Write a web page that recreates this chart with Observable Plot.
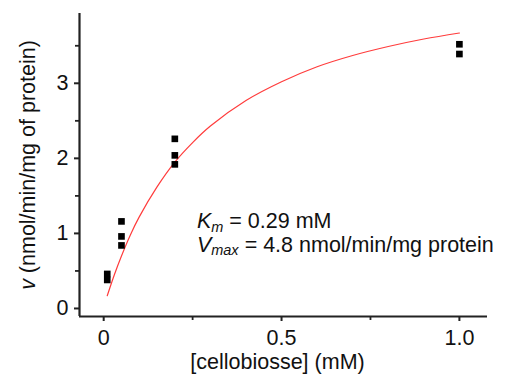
<!DOCTYPE html>
<html><head><meta charset="utf-8">
<script src="https://cdn.jsdelivr.net/npm/d3@7"></script>
<script src="https://cdn.jsdelivr.net/npm/@observablehq/plot@0.6"></script>
<style>
body{margin:0;background:#fff}
#chart svg{font-family:"Liberation Sans",Arial,sans-serif}
</style>
</head><body><div id="chart"></div>
<script>
// measured points
const substrate = [0.01, 0.01, 0.05, 0.05, 0.05, 0.2, 0.2, 0.2, 1.0, 1.0];
const velocity  = [0.38, 0.46, 1.16, 0.96, 0.84, 2.26, 2.04, 1.92, 3.52, 3.39];
// fitted curve
const fitSubstrate = [0.01, 0.03, 0.05, 0.075, 0.1, 0.15, 0.2, 0.25, 0.3, 0.4, 0.5, 0.6, 0.7, 0.8, 0.9, 1.0];
const fitVelocity  = [0.17, 0.45, 0.70, 0.98, 1.22, 1.62, 1.95, 2.21, 2.43, 2.77, 3.02, 3.22, 3.37, 3.49, 3.59, 3.67];
// axes
const xDomain = [-0.068, 1.079];
const yDomain = [-0.107, 3.93];
const xTicks = [0, 0.5, 1.0];
const xTickLabels = ["0", "0.5", "1.0"];
const xMinorTicks = [0.25, 0.75];
const yTicks = [0, 1, 2, 3];
const yTickLabels = ["0", "1", "2", "3"];
const yMinorTicks = [0.5, 1.5, 2.5, 3.5];
const xTitle = "[cellobiosse] (mM)";
const yTitle = "v (nmol/min/mg of protein)";
const kmText = "= 0.29 mM";
const vmaxText = "= 4.8 nmol/min/mg protein";
const annotX = 0.2634, annotY1 = 1.065, annotY2 = 0.752;

const points = substrate.map((s, i) => ({s, v: velocity[i]}));
const fit = fitSubstrate.map((s, i) => ({s, v: fitVelocity[i]}));
const axisColor = "#222";
const FS = 21.5;

const plot = Plot.plot({
  width: 508, height: 380,
  marginLeft: 79, marginRight: 21, marginTop: 13, marginBottom: 64,
  style: {fontFamily: "Liberation Sans, Arial, sans-serif", fontSize: FS + "px", background: "#fff"},
  x: {domain: xDomain},
  y: {domain: yDomain},
  marks: [
    Plot.line(fit, {x: "s", y: "v", curve: "catmull-rom", stroke: "#ff3c3c", strokeWidth: 1.2}),
    Plot.dot(points, {x: "s", y: "v", symbol: "square", r: 3.75, fill: "#000", stroke: "none"}),
    Plot.ruleX([xDomain[0]], {stroke: axisColor, strokeWidth: 2.2}),
    Plot.ruleY([yDomain[0]], {stroke: axisColor, strokeWidth: 2.2}),
    Plot.axisX(xTicks, {tickSize: 5, tickPadding: 8, stroke: axisColor, strokeWidth: 2, fill: "#111", fontSize: FS,
      tickFormat: d => xTickLabels[xTicks.indexOf(d)], label: null}),
    Plot.axisX(xMinorTicks, {tickSize: 4, tickFormat: null, stroke: axisColor, strokeWidth: 1.8, label: null, text: null}),
    Plot.axisY(yTicks, {tickSize: 5, tickPadding: 6, stroke: axisColor, strokeWidth: 2, fill: "#111", fontSize: FS,
      tickFormat: d => yTickLabels[yTicks.indexOf(d)], label: null}),
    Plot.axisY(yMinorTicks, {tickSize: 4, tickFormat: null, stroke: axisColor, strokeWidth: 1.8, label: null, text: null}),
    Plot.text([xTitle], {frameAnchor: "bottom", text: d => d, dy: 52, dx: -6, fontSize: FS, fill: "#111", textAnchor: "middle"}),
    Plot.text([yTitle], {frameAnchor: "left", text: d => d, dx: -51, rotate: -90, fontSize: FS, fill: "#111", textAnchor: "middle"})
  ]
});
document.getElementById("chart").append(plot);

const svg = d3.select(plot);
const xs = plot.scale("x"), ys = plot.scale("y");
function piece(x, y, str, size, italic) {
  const t = svg.append("text").attr("x", x).attr("y", y)
    .attr("text-anchor", "start").attr("font-size", size).attr("fill", "#111")
    .attr("font-style", italic ? "italic" : "normal").text(str);
  return x + t.node().getComputedTextLength();
}
function annot(main, sub, rest, yv) {
  const y = ys.apply(yv);
  let x = xs.apply(annotX);
  x = piece(x, y, main, FS, true);
  x = piece(x, y + 3.5, sub, 14.5, true);
  piece(x + 6, y, rest, FS, false);
}
annot("K", "m", kmText, annotY1);
annot("V", "max", vmaxText, annotY2);
// italic v in y title
svg.selectAll("text").filter(function(){ return this.textContent === yTitle; }).each(function(){
  const el = d3.select(this);
  const target = el.select("tspan").empty() ? el : el.select("tspan");
  target.text("");
  target.append("tspan").attr("font-style", "italic").text("v");
  target.append("tspan").text(yTitle.slice(1));
});
</script>
</body></html>
